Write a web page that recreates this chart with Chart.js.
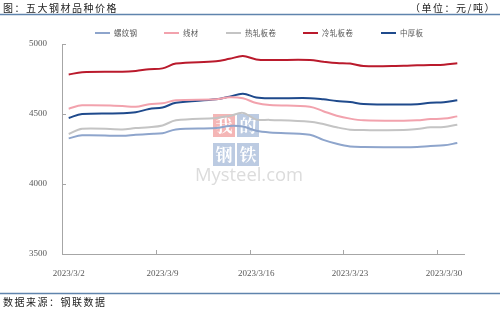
<!DOCTYPE html>
<html>
<head>
<meta charset="utf-8">
<script src="https://cdn.jsdelivr.net/npm/chart.js@4"></script>
<style>
  body { margin: 0; background: #fff; }
  canvas { display: block; }
</style>
</head>
<body>
<canvas id="myChart" width="500" height="309"></canvas>
<script>
const dates = [
    '2023/3/2', '2023/3/3', '2023/3/6', '2023/3/7', '2023/3/8', '2023/3/9', '2023/3/10',
    '2023/3/13', '2023/3/14', '2023/3/15', '2023/3/16', '2023/3/17',
    '2023/3/20', '2023/3/21', '2023/3/22', '2023/3/23', '2023/3/24',
    '2023/3/27', '2023/3/28', '2023/3/29', '2023/3/30', '2023/3/31',
];

const tickLabels = ['2023/3/2', '2023/3/9', '2023/3/16', '2023/3/23', '2023/3/30'];

const rebar = [4326, 4348, 4344, 4352, 4358, 4362, 4390, 4400, 4415, 4410, 4380, 4368, 4352, 4315, 4287, 4268, 4264, 4262, 4264, 4271, 4276, 4293];
const wire = [4538, 4562, 4557, 4552, 4570, 4576, 4598, 4605, 4620, 4612, 4578, 4564, 4552, 4520, 4488, 4467, 4455, 4452, 4455, 4464, 4467, 4483];
const hotRolled = [4357, 4395, 4390, 4400, 4405, 4418, 4455, 4472, 4485, 4508, 4460, 4458, 4445, 4428, 4405, 4388, 4385, 4385, 4393, 4405, 4408, 4424];
const coldRolled = [4782, 4798, 4802, 4808, 4820, 4826, 4860, 4876, 4894, 4914, 4890, 4886, 4886, 4874, 4864, 4860, 4843, 4845, 4848, 4850, 4852, 4862];
const plate = [4472, 4500, 4505, 4512, 4536, 4546, 4580, 4605, 4624, 4645, 4618, 4612, 4613, 4605, 4593, 4586, 4571, 4567, 4570, 4580, 4584, 4598];

// day offset from 3/2, plotted in the middle of the day like Excel's date axis
const start = new Date(2023, 2, 2);
function dayPos(s) {
    const p = s.split('/');
    const d = new Date(+p[0], +p[1] - 1, +p[2]);
    return Math.round((d - start) / 86400000) + 0.5;
}
function pts(vals) {
    return vals.map((v, i) => ({x: dayPos(dates[i]), y: v}));
}

const data = {
    datasets: [
        {label: '螺纹钢', data: pts(rebar), borderColor: '#8EA5CC'},
        {label: '线材', data: pts(wire), borderColor: '#F2A2AD'},
        {label: '热轧板卷', data: pts(hotRolled), borderColor: '#C4C4C4'},
        {label: '冷轧板卷', data: pts(coldRolled), borderColor: '#BA1A2C'},
        {label: '中厚板', data: pts(plate), borderColor: '#1F4A8C'},
    ]
};

const cjk = '"Noto Sans CJK SC", sans-serif';

const decor = {
    id: 'decor',
    beforeDatasetsDraw(chart) {
        const ctx = chart.ctx;
        ctx.save();
        // watermark
        const sq = [
            [213, 114, '#F4B6B6', '我'], [237, 114, '#BCCBE2', '的'],
            [213, 143, '#BCCBE2', '钢'], [237, 143, '#BCCBE2', '铁'],
        ];
        ctx.font = 'bold 17px "Noto Serif CJK SC", ' + cjk;
        ctx.textAlign = 'center';
        ctx.textBaseline = 'middle';
        sq.forEach(s => {
            ctx.fillStyle = s[2];
            ctx.fillRect(s[0], s[1], 22, 23);
            ctx.fillStyle = '#fff';
            ctx.fillText(s[3], s[0] + 11, s[1] + 12);
        });
        ctx.font = '24px "Open Sans", sans-serif';
        const w = ctx.measureText('Mysteel.com').width;
        ctx.font = (24 * 108 / w).toFixed(1) + 'px "Open Sans", sans-serif';
        ctx.fillStyle = '#DCDCDC';
        ctx.textAlign = 'left';
        ctx.textBaseline = 'alphabetic';
        ctx.fillText('Mysteel.com', 195, 181);
        ctx.restore();
    },
    afterDraw(chart) {
        const ctx = chart.ctx;
        const area = chart.chartArea;
        const xs = chart.scales.x, ys = chart.scales.y;
        ctx.save();
        // inner tick marks
        ctx.strokeStyle = '#A6A6A6';
        ctx.lineWidth = 1;
        ctx.beginPath();
        [7, 14, 21, 28].forEach(v => {
            const px = Math.round(xs.getPixelForValue(v)) + 0.5;
            ctx.moveTo(px, area.bottom);
            ctx.lineTo(px, area.bottom - 4);
        });
        [3500, 4000, 4500, 5000].forEach(v => {
            const py = Math.round(ys.getPixelForValue(v)) + 0.5;
            ctx.moveTo(area.left, py);
            ctx.lineTo(area.left + 4, py);
        });
        ctx.stroke();

        // header / footer
        ctx.fillStyle = '#222';
        ctx.font = '10px ' + cjk;
        ctx.letterSpacing = '1.5px';
        ctx.textBaseline = 'middle';
        ctx.textAlign = 'left';
        ctx.fillText('图：五大钢材品种价格', 3, 8);
        ctx.textAlign = 'right';
        ctx.fillText('（单位：元/吨）', 496, 8);
        ctx.textAlign = 'left';
        ctx.fillText('数据来源：钢联数据', 3, 302);
        ctx.letterSpacing = '0px';
        ctx.strokeStyle = '#5F84AD';
        ctx.lineWidth = 1.5;
        ctx.beginPath();
        ctx.moveTo(0, 14.5); ctx.lineTo(500, 14.5);
        ctx.moveTo(0, 293.5); ctx.lineTo(500, 293.5);
        ctx.stroke();

        // legend
        const starts = [95, 164, 226, 303, 381];
        ctx.font = '7.5px ' + cjk;
        ctx.letterSpacing = '0.3px';
        ctx.fillStyle = '#595959';
        ctx.textAlign = 'left';
        ctx.lineWidth = 2;
        chart.data.datasets.forEach((ds, i) => {
            const x = starts[i];
            ctx.strokeStyle = ds.borderColor;
            ctx.beginPath();
            ctx.moveTo(x, 33); ctx.lineTo(x + 15, 33);
            ctx.stroke();
            ctx.fillText(ds.label, x + 19, 33);
        });
        ctx.restore();
    }
};

const config = {
    type: 'line',
    data: data,
    options: {
        responsive: false,
        animation: false,
        layout: {padding: {top: 44, left: 0, right: 36, bottom: 0}},
        elements: {
            line: {borderWidth: 2, tension: 0.35, fill: false},
            point: {radius: 0},
        },
        plugins: {
            legend: {display: false},
            tooltip: {enabled: false},
        },
        scales: {
            x: {
                type: 'linear',
                min: 0,
                max: 30,
                afterFit: s => { s.height = 55; },
                afterBuildTicks: s => { s.ticks = tickLabels.map(t => ({value: dayPos(t) - 0.5})); },
                grid: {display: false},
                border: {color: '#A6A6A6', width: 1},
                ticks: {
                    padding: 6,
                    labelOffset: 6.7,
                    maxRotation: 0,
                    autoSkip: false,
                    color: '#595959',
                    font: {family: '"Liberation Serif", serif', size: 9},
                    callback: (v, i) => tickLabels[i],
                },
            },
            y: {
                min: 3500,
                max: 5000,
                afterFit: s => { s.width = 62; },
                grid: {display: false},
                border: {color: '#A6A6A6', width: 1},
                ticks: {
                    stepSize: 500,
                    padding: 7,
                    color: '#595959',
                    font: {family: '"Liberation Serif", serif', size: 9},
                    callback: v => String(v),
                },
            },
        },
    },
    plugins: [decor],
};

const myChart = new Chart(
    document.getElementById('myChart'),
    config
);
</script>
</body>
</html>
